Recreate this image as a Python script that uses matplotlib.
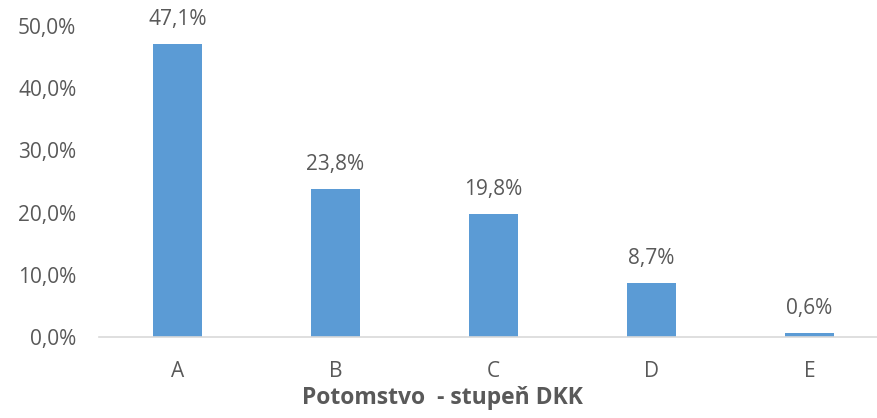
import matplotlib.pyplot as plt

categories = ["A", "B", "C", "D", "E"]
values = [47.1, 23.8, 19.8, 8.7, 0.6]
value_labels = ["47,1%", "23,8%", "19,8%", "8,7%", "0,6%"]
y_ticks = [0, 10, 20, 30, 40, 50]
y_tick_labels = ["0,0%", "10,0%", "20,0%", "30,0%", "40,0%", "50,0%"]

plt.rcParams['font.family'] = ['Open Sans', 'DejaVu Sans']
txt = "#595959"

fig = plt.figure(figsize=(8.78, 4.18), dpi=100)
ax = fig.add_axes([98.5/878, 81/418, 790/878, 311/418])

x = range(len(categories))
bars = ax.bar(x, values, width=0.31, color="#5B9BD5")

# labels above the bars
for b, lab in zip(bars, value_labels):
    ax.annotate(lab, (b.get_x() + b.get_width()/2, b.get_height()),
                xytext=(0, 10), textcoords="offset points",
                ha="center", va="bottom", fontsize=15, color=txt)

ax.set_xlim(-0.5, len(categories) - 0.5)
ax.set_ylim(0, 50)
ax.set_yticks(y_ticks)
ax.set_yticklabels(y_tick_labels)
ax.set_xticks(list(x))
ax.set_xticklabels(categories)
ax.tick_params(axis="y", length=0, pad=16, labelsize=15, labelcolor=txt)
ax.tick_params(axis="x", length=0, pad=17, labelsize=15, labelcolor=txt)

for s in ["top", "right", "left"]:
    ax.spines[s].set_visible(False)
ax.spines["bottom"].set_color("#d9d9d9")
ax.spines["bottom"].set_linewidth(1.2)

fig.text(442/878, 20/418, "Potomstvo  - stupeň DKK", ha="center", va="center",
         fontsize=16.5, fontweight="bold", color=txt)

fig.savefig("out.png", dpi=100)
